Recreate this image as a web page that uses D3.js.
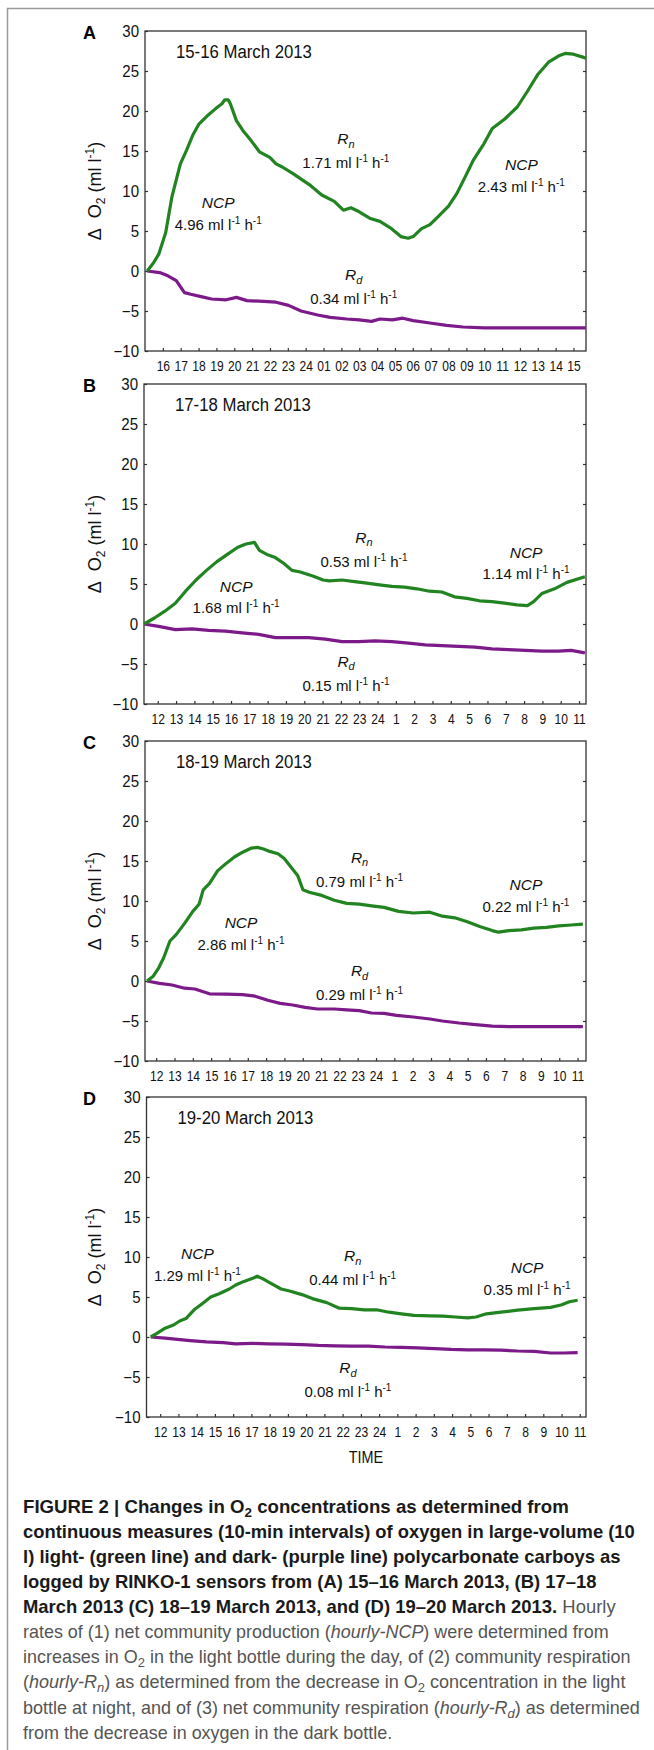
<!DOCTYPE html>
<html>
<head>
<meta charset="utf-8">
<script src="https://cdn.jsdelivr.net/npm/d3@7"></script>
<style>
  body { margin: 0; background: #fff; }
  svg text { font-family: "Liberation Sans", Arial, sans-serif; }
</style>
</head>
<body>
<script>
// ! Data (hours since midnight of day 1, delta O2 in ml/l)
const panelLetters = ["A", "B", "C", "D"];
const panelDates = ["15-16 March 2013", "17-18 March 2013", "18-19 March 2013", "19-20 March 2013"];
const hourDomains = [[15.0, 39.7], [11.25, 35.38], [11.39, 35.46], [11.25, 35.34]];

// prettier-ignore
const tickLabelsA = ["16","17","18","19","20","21","22","23","24","01","02","03","04","05","06","07","08","09","10","11","12","13","14","15"];
// prettier-ignore
const tickLabelsBCD = ["12","13","14","15","16","17","18","19","20","21","22","23","24","1","2","3","4","5","6","7","8","9","10","11"];
const firstTick = [16, 12, 12, 12];
const yTicks = [-10, -5, 0, 5, 10, 15, 20, 25, 30];

// prettier-ignore
const greenA = [[15.12,0],[15.47,1.0],[15.77,2.1],[16.16,4.8],[16.51,9.3],[16.98,13.4],[17.33,15.1],[17.68,17.0],[18.03,18.4],[18.49,19.4],[18.96,20.3],[19.31,20.9],[19.47,21.4],[19.66,21.4],[19.78,20.9],[20.12,18.8],[20.47,17.6],[20.94,16.3],[21.41,14.9],[21.99,14.2],[22.34,13.4],[22.69,13.0],[23.27,12.2],[24.20,10.8],[24.90,9.5],[25.60,8.7],[26.11,7.6],[26.53,7.9],[27.00,7.4],[27.58,6.6],[28.16,6.2],[28.74,5.4],[29.33,4.3],[29.74,4.1],[30.02,4.3],[30.49,5.3],[30.96,5.8],[31.42,6.8],[32.00,8.1],[32.47,9.7],[32.94,11.8],[33.40,13.9],[33.98,15.9],[34.45,17.8],[35.15,19.0],[35.85,20.5],[36.43,22.5],[37.01,24.6],[37.60,26.1],[38.18,26.9],[38.53,27.2],[38.99,27.1],[39.57,26.7],[39.7,26.6]];
// prettier-ignore
const purpleA = [[15.12,0],[15.82,-0.2],[16.28,-0.6],[16.75,-1.2],[17.21,-2.7],[17.56,-2.9],[18.14,-3.2],[18.73,-3.5],[19.54,-3.6],[20.12,-3.3],[20.71,-3.7],[21.64,-3.8],[22.34,-3.9],[23.04,-4.3],[23.74,-5.0],[24.67,-5.5],[25.37,-5.8],[26.30,-6.0],[27.0,-6.1],[27.69,-6.3],[28.16,-6.0],[28.86,-6.1],[29.44,-5.9],[30.02,-6.2],[30.96,-6.5],[31.89,-6.8],[32.82,-7.0],[33.98,-7.1],[36.08,-7.1],[39.69,-7.1]];
// prettier-ignore
const greenB = [[11.25,0],[11.82,0.75],[12.39,1.6],[12.96,2.6],[13.52,4.1],[14.09,5.5],[14.66,6.7],[15.23,7.8],[15.80,8.7],[16.37,9.6],[16.82,10.0],[17.28,10.2],[17.55,9.2],[17.96,8.7],[18.42,8.3],[18.87,7.6],[19.33,6.7],[19.78,6.5],[20.46,6.0],[21.03,5.5],[21.37,5.4],[22.06,5.5],[22.74,5.3],[23.42,5.1],[24.10,4.9],[24.78,4.7],[25.47,4.6],[26.15,4.4],[26.83,4.1],[27.51,4.0],[28.20,3.4],[28.88,3.2],[29.56,2.9],[30.24,2.8],[30.93,2.6],[31.61,2.4],[32.18,2.3],[32.52,2.8],[32.97,3.8],[33.66,4.4],[34.34,5.2],[35.32,5.9]];
// prettier-ignore
const purpleB = [[11.25,0],[12.05,-0.3],[12.96,-0.7],[13.87,-0.6],[14.78,-0.8],[15.69,-0.9],[16.60,-1.1],[17.51,-1.3],[18.42,-1.7],[19.33,-1.7],[20.24,-1.7],[21.15,-1.9],[22.06,-2.2],[22.96,-2.2],[23.87,-2.1],[24.78,-2.2],[25.69,-2.4],[26.60,-2.6],[27.51,-2.7],[28.42,-2.8],[29.33,-2.9],[30.24,-3.1],[31.15,-3.2],[32.06,-3.3],[32.97,-3.4],[33.88,-3.4],[34.57,-3.3],[35.32,-3.6]];
// prettier-ignore
const greenC = [[11.50,0],[11.84,0.6],[12.14,1.65],[12.41,2.9],[12.75,5.0],[13.09,5.8],[13.55,7.2],[14.00,8.7],[14.34,9.6],[14.57,11.4],[14.91,12.2],[15.36,13.8],[15.82,14.7],[16.27,15.5],[16.72,16.1],[17.18,16.6],[17.52,16.7],[17.86,16.5],[18.20,16.2],[18.65,15.9],[18.99,15.3],[19.44,14.0],[19.72,13.2],[20.01,11.4],[20.35,11.1],[21.04,10.7],[21.72,10.1],[22.40,9.7],[23.08,9.6],[23.76,9.4],[24.44,9.2],[25.23,8.7],[26.03,8.5],[26.94,8.6],[27.62,8.1],[28.30,7.9],[28.98,7.4],[29.66,6.8],[30.34,6.3],[30.68,6.1],[31.25,6.3],[31.93,6.4],[32.61,6.6],[33.29,6.7],[33.97,6.9],[34.65,7.0],[35.29,7.1]];
// prettier-ignore
const purpleC = [[11.50,0],[12.18,-0.3],[12.87,-0.5],[13.55,-0.9],[14.11,-1.0],[14.91,-1.6],[15.82,-1.65],[16.72,-1.7],[17.40,-1.9],[18.09,-2.4],[18.77,-2.8],[19.45,-3.0],[20.13,-3.3],[20.81,-3.5],[21.72,-3.5],[22.40,-3.6],[23.08,-3.7],[23.76,-4.0],[24.44,-4.05],[25.12,-4.3],[26.03,-4.5],[26.94,-4.75],[27.62,-5.0],[28.53,-5.25],[29.43,-5.45],[30.34,-5.65],[31.25,-5.7],[33.06,-5.7],[35.29,-5.7]];
// prettier-ignore
const greenD = [[11.48,0],[11.82,0.45],[12.27,1.1],[12.73,1.5],[13.07,2.0],[13.41,2.3],[13.86,3.4],[14.32,4.2],[14.77,5.0],[15.23,5.4],[15.79,6.0],[16.14,6.5],[16.59,6.95],[17.04,7.3],[17.32,7.6],[17.61,7.3],[18.07,6.7],[18.63,6.0],[19.09,5.75],[19.77,5.3],[20.34,4.8],[21.13,4.3],[21.82,3.6],[22.50,3.55],[23.18,3.4],[23.86,3.4],[24.54,3.1],[25.22,2.9],[25.91,2.7],[26.81,2.65],[27.50,2.6],[28.18,2.5],[28.86,2.4],[29.31,2.5],[29.88,2.9],[30.68,3.1],[31.59,3.35],[32.50,3.55],[33.40,3.7],[33.97,4.0],[34.43,4.4],[34.88,4.6]];
// prettier-ignore
const purpleD = [[11.48,0],[12.27,-0.15],[12.95,-0.3],[13.64,-0.45],[14.54,-0.6],[15.45,-0.7],[16.14,-0.85],[17.04,-0.8],[17.95,-0.85],[18.86,-0.9],[19.77,-0.95],[20.68,-1.05],[21.59,-1.1],[22.50,-1.15],[23.41,-1.15],[24.32,-1.25],[25.22,-1.3],[26.13,-1.35],[27.04,-1.45],[27.95,-1.55],[28.86,-1.6],[29.77,-1.6],[30.68,-1.65],[31.59,-1.75],[32.50,-1.8],[33.40,-2.0],[34.09,-2.0],[34.88,-1.95]];

// ! Rate annotations: label, hourly rate, anchor (hour, value) of the rate line
// prettier-ignore
const notesA = [["NCP","4.96",19.10,5.13],["Rn","1.71",26.25,12.84],["NCP","2.43",36.08,9.91],["Rd","0.34",26.69,-4.13]];
// prettier-ignore
const notesB = [["NCP","1.68",16.28,1.34],["Rn","0.53",23.26,7.16],["NCP","1.14",32.11,5.59],["Rd","0.15",22.28,-8.34]];
// prettier-ignore
const notesC = [["NCP","2.86",16.63,3.88],["Rn","0.79",23.10,11.79],["NCP","0.22",32.18,8.66],["Rd","0.29",23.10,-2.38]];
// prettier-ignore
const notesD = [["NCP","1.29",14.04,7.0],["Rn","0.44",22.55,6.5],["NCP","0.35",32.11,5.25],["Rd","0.08",22.29,-7.54]];

const greens = [greenA, greenB, greenC, greenD];
const purples = [purpleA, purpleB, purpleC, purpleD];
const notes = [notesA, notesB, notesC, notesD];
const tickLabels = [tickLabelsA, tickLabelsBCD, tickLabelsBCD, tickLabelsBCD];

// ! Layout
const width = 654;
const height = 1750;
const panelTops = [31, 384, 741, 1097];
const panelLefts = [145, 144, 145, 146.5];
const panelRight = 586;
const panelHeight = 320;
const greenColor = "#218421";
const purpleColor = "#7d1a8a";

// squeeze a single-run text horizontally (the figure uses a narrow sans)
const condense = (sel, k) =>
  sel.each(function () {
    const w = this.getComputedTextLength();
    d3.select(this).attr("textLength", w * k).attr("lengthAdjust", "spacingAndGlyphs");
  });

const svg = d3
  .select("body")
  .append("svg")
  .attr("width", width)
  .attr("height", height);

// outer figure frame (cut off at right and bottom like the page)
svg
  .append("rect")
  .attr("x", 7.5)
  .attr("y", 8.5)
  .attr("width", 700)
  .attr("height", 1800)
  .attr("fill", "none")
  .attr("stroke", "#9a9a9a")
  .attr("stroke-width", 1.5);

// ! Draw one panel
const drawPanel = (i) => {
  const top = panelTops[i];
  const left = panelLefts[i];
  const x = d3.scaleLinear().domain(hourDomains[i]).range([left, panelRight]);
  const y = d3.scaleLinear().domain([-10, 30]).range([top + panelHeight, top]);
  const g = svg.append("g").attr("class", "panel");

  const hours = tickLabels[i].map((d, k) => firstTick[i] + k);

  const xAxis = g
    .append("g")
    .attr("transform", `translate(0, ${top + panelHeight})`)
    .call(
      d3
        .axisBottom(x)
        .tickValues(hours)
        .tickSize(-3)
        .tickPadding(10)
        .tickFormat((d, k) => tickLabels[i][k])
    );
  const yAxis = g
    .append("g")
    .attr("transform", `translate(${left}, 0)`)
    .call(d3.axisLeft(y).tickValues(yTicks).tickSize(-3).tickPadding(6));
  const yAxisR = g
    .append("g")
    .attr("transform", `translate(${panelRight}, 0)`)
    .call(d3.axisRight(y).tickValues(yTicks.slice(1, -1)).tickSize(-3).tickFormat(""));
  [xAxis, yAxis, yAxisR].forEach((a) => {
    a.select(".domain").remove();
    a.selectAll("line").attr("stroke", "#333").attr("stroke-width", 1.2);
    a.selectAll("text").attr("fill", "#111").style("font-family", null);
  });
  xAxis.selectAll("text").attr("font-size", 14);
  condense(xAxis.selectAll("text"), 0.86);
  yAxis.selectAll("text").attr("font-size", 16);
  condense(yAxis.selectAll("text"), 0.94);

  g.append("rect")
    .attr("x", left)
    .attr("y", top)
    .attr("width", panelRight - left)
    .attr("height", panelHeight)
    .attr("fill", "none")
    .attr("stroke", "#333")
    .attr("stroke-width", 1.3);

  const line = d3
    .line()
    .x((d) => x(d[0]))
    .y((d) => y(d[1]));
  g.append("path")
    .datum(purples[i])
    .attr("d", line)
    .attr("fill", "none")
    .attr("stroke", purpleColor)
    .attr("stroke-width", 3.2)
    .attr("stroke-linejoin", "round");
  g.append("path")
    .datum(greens[i])
    .attr("d", line)
    .attr("fill", "none")
    .attr("stroke", greenColor)
    .attr("stroke-width", 3.2)
    .attr("stroke-linejoin", "round");

  // panel letter and date
  g.append("text")
    .attr("x", 83)
    .attr("y", top + 8)
    .attr("font-size", 18)
    .attr("font-weight", "bold")
    .text(panelLetters[i]);
  const date = g
    .append("text")
    .attr("x", x(hourDomains[i][0]) + 31)
    .attr("y", top + 27)
    .attr("font-size", 18)
    .attr("fill", "#111")
    .text(panelDates[i]);
  condense(date, 0.93);

  // y axis title
  const yt = g
    .append("text")
    .attr("transform", `translate(101, ${top + panelHeight / 2}) rotate(-90)`)
    .attr("text-anchor", "middle")
    .attr("font-size", 18)
    .attr("fill", "#111");
  yt.append("tspan").text("\u0394\u00a0\u00a0O");
  yt.append("tspan").attr("font-size", 12).attr("dy", 4).text("2");
  yt.append("tspan").attr("dy", -4).text(" (ml l");
  yt.append("tspan").attr("font-size", 12).attr("dy", -7).text("-1");
  yt.append("tspan").attr("dy", 7).text(")");

  // rate annotations
  notes[i].forEach((n) => {
    const cx = x(n[2]);
    const cy = y(n[3]);
    const isR = n[0] !== "NCP";
    const lab = g
      .append("text")
      .attr("x", cx)
      .attr("y", cy - (isR ? 24 : 21.7))
      .attr("text-anchor", "middle")
      .attr("font-size", 15.5)
      .attr("font-style", "italic")
      .attr("fill", "#111");
    if (isR) {
      lab.append("tspan").text("R");
      lab.append("tspan").attr("font-size", 11).attr("dy", 3.5).text(n[0].slice(1));
    } else {
      lab.text("NCP");
    }
    const rate = g
      .append("text")
      .attr("x", cx)
      .attr("y", cy)
      .attr("text-anchor", "middle")
      .attr("font-size", 15)
      .attr("fill", "#111");
    rate.append("tspan").text(n[1] + " ml l");
    rate.append("tspan").attr("font-size", 10).attr("dy", -6).text("-1");
    rate.append("tspan").attr("dy", 6).text(" h");
    rate.append("tspan").attr("font-size", 10).attr("dy", -6).text("-1");
  });
};

panelLetters.forEach((d, i) => drawPanel(i));

const timeLabel = svg
  .append("text")
  .attr("x", 366)
  .attr("y", 1463)
  .attr("text-anchor", "middle")
  .attr("font-size", 16)
  .attr("fill", "#111")
  .text("TIME");
condense(timeLabel, 0.9);

// ! Caption, one entry per printed line: [text, style] pieces
// prettier-ignore
const captionLines = [
  [["FIGURE 2 | Changes in O","b"],["2","bs"],[" concentrations as determined from","b"]],
  [["continuous measures (10-min intervals) of oxygen in large-volume (10","b"]],
  [["l) light- (green line) and dark- (purple line) polycarbonate carboys as","b"]],
  [["logged by RINKO-1 sensors from (A) 15\u201316 March 2013, (B) 17\u201318","b"]],
  [["March 2013 (C) 18\u201319 March 2013, and (D) 19\u201320 March 2013.","b"],[" Hourly","r"]],
  [["rates of (1) net community production (","r"],["hourly-NCP","i"],[") were determined from","r"]],
  [["increases in O","r"],["2","s"],[" in the light bottle during the day, of (2) community respiration","r"]],
  [["(","r"],["hourly-R","i"],["n","is"],[") as determined from the decrease in O","r"],["2","s"],[" concentration in the light","r"]],
  [["bottle at night, and of (3) net community respiration (","r"],["hourly-R","i"],["d","is"],[") as determined","r"]],
  [["from the decrease in oxygen in the dark bottle.","r"]]
];
const captionEnds = [569, 635, 621, 597, 616, 609, 631, 626, 640, 392.5];

const caption = svg.append("g").attr("font-size", 18);
captionLines.forEach((pieces, k) => {
  const holder = caption.append("g");
  const t = holder.append("text").attr("x", 0).attr("y", 0);
  let shifted = 0;
  pieces.forEach((p) => {
    const s = t.append("tspan").text(p[0]);
    const style = p[1];
    s.attr("fill", style.includes("b") ? "#1a1a1a" : "#555");
    if (style.includes("b")) s.attr("font-weight", "bold");
    if (style.includes("i")) s.attr("font-style", "italic");
    const sub = style.includes("s");
    const dy = (sub ? 4 : 0) - shifted;
    if (dy) s.attr("dy", dy);
    shifted = sub ? 4 : 0;
    if (sub) s.attr("font-size", 13);
  });
  // squeeze the whole line to the printed width
  const w = t.node().getComputedTextLength();
  const kx = (captionEnds[k] - 23) / w;
  holder.attr("transform", `translate(23, ${1512.7 + k * 25.1}) scale(${kx}, 1)`);
});
</script>
</body>
</html>
